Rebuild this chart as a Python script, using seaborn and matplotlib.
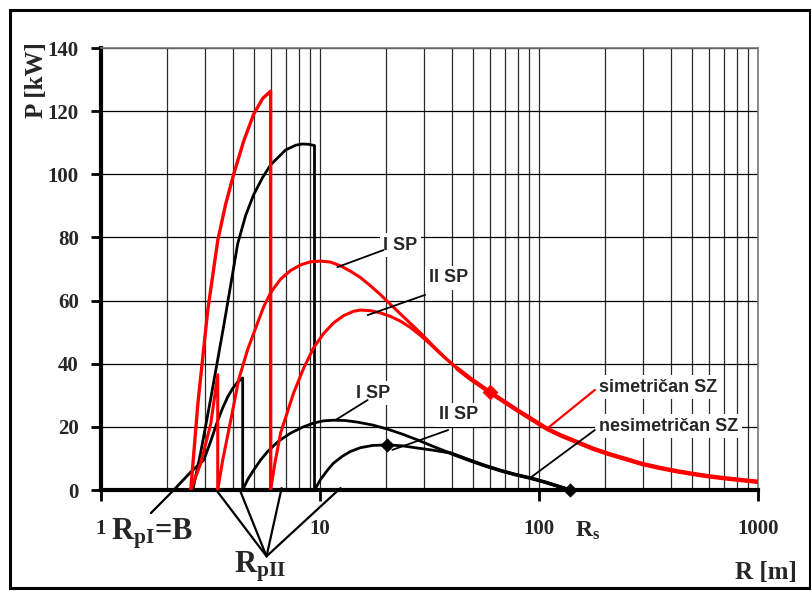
import matplotlib
matplotlib.use("Agg")
import numpy as np
import pandas as pd
import matplotlib.pyplot as plt
import matplotlib.patches as mpatches
from matplotlib.ticker import FixedLocator, NullFormatter, LogLocator
import seaborn as sns

# ---------------- data (R in m, P in kW) ----------------
red_tall_R = [2.570, 2.766, 3.073, 3.412, 3.707, 4.035, 4.482, 4.976, 5.47, 5.950, 5.950]
red_tall_P = [0, 27, 57, 79, 90.5, 100, 110.5, 119, 124, 126.3, 0]

red_spike_R = [2.570, 2.855, 3.171, 3.412, 3.412]
red_spike_P = [0, 8.5, 21, 36.5, 0]

# shared tail of both red curves (symmetric fault)
tail_R = [42.31, 48.48, 59.82, 80.23, 108.7, 124.6, 148.9, 176.2, 210.6, 251.7,
          297.7, 355.9, 425.3, 503, 601, 718.8, 850.4, 1000]
tail_P = [38.5, 35.3, 30.9, 25.1, 19.4, 17.4, 15.2, 13.1, 11.3, 9.7,
          8.2, 7.0, 5.95, 5.1, 4.3, 3.65, 3.1, 2.6]

red_I_R = [3.412, 3.596, 3.911, 4.254, 4.675, 5.192, 5.529, 5.950, 6.607, 7.338,
           8.152, 9.051, 10.05, 11.16, 12.40, 13.77, 15.29, 16.99, 18.87, 20.96,
           23.27, 25.84, 28.71, 32.89, 37.31] + tail_R
red_I_P = [0, 9.5, 22, 35, 44.5, 53, 58, 62.5, 66.8, 69.5,
           71.3, 72.3, 72.5, 72.2, 71, 69.3, 67.3, 64.7, 61.9, 58.8,
           55.8, 52.8, 49.8, 45.6, 41.9] + tail_P

red_II_R = [5.950, 6.205, 6.607, 7.573, 8.411, 9.342, 10.37, 11.52, 12.80, 14.21,
            15.29, 16.99, 18.87, 20.96, 23.27, 25.84, 28.71, 31.87, 35.40, 39.32] + tail_R
red_II_P = [0, 8, 18, 30.7, 38.5, 45, 49.5, 52.9, 55.2, 56.6,
            57, 56.8, 56.1, 55, 53.5, 51.5, 49, 46.2, 43.2, 40.4] + tail_P

black_tall_R = [2.625, 2.855, 3.171, 3.634, 3.911, 4.209, 4.578, 4.976, 5.47, 5.950,
                6.963, 7.734, 8.324, 8.862, 9.44, 9.44]
black_tall_P = [0, 12, 29, 52, 65, 78, 87, 93.5, 99, 103,
                107.7, 109.2, 109.6, 109.5, 109.1, 0]

black_spike_R = [2.15, 2.57, 2.947, 3.171, 3.412, 3.596, 3.790, 3.995, 4.209, 4.436, 4.436]
black_spike_P = [0, 5.7, 9.5, 15.5, 22, 26, 29.5, 32.2, 34.2, 35.5, 0]

# shared tail of both black curves (asymmetric fault)
btail_R = [39.32, 46.99, 55.57, 66.44, 77.74, 91.0, 106.5, 122.1, 138.4]
btail_P = [11.7, 9.7, 7.9, 6.2, 4.9, 3.8, 2.5, 1.2, 0]

black_I_R = [4.436, 4.675, 4.976, 5.357, 5.766, 6.471, 7.338, 8.324, 9.342, 10.37,
             11.52, 13.07, 14.82, 17.35, 20.30, 23.76, 27.81, 32.89] + btail_R
black_I_P = [0, 3.3, 6.3, 9.5, 12.2, 15.5, 18, 19.9, 21.2, 21.9,
             22.1, 22, 21.5, 20.6, 19.3, 17.7, 15.9, 13.8] + btail_P

black_II_R = [9.44, 10.05, 10.82, 11.52, 12.66, 13.77, 15.29, 17.35, 20.30, 23.76,
              27.81, 32.89] + btail_R
black_II_P = [0, 3.3, 6.3, 8.5, 10.7, 12.2, 13.4, 14.1, 14.3, 14.0,
              13.3, 12.6] + btail_P

red_mark_R = [59.82]
red_mark_P = [31]
black_mark_R = [20.3, 138.4]
black_mark_P = [14.3, 0]

x_ticks = [1, 10, 100, 1000]
x_ticklabels = ["1", "10", "100", "1000"]
y_ticks = [0, 20, 40, 60, 80, 100, 120, 140]

# ---------------- style ----------------
sns.set_style("white")
plt.rcParams['font.family'] = ['Liberation Serif', 'DejaVu Serif']
plt.rcParams['mathtext.fontset'] = 'custom'
plt.rcParams['mathtext.rm'] = 'Liberation Serif'
plt.rcParams['mathtext.bf'] = 'Liberation Serif:bold'
plt.rcParams['mathtext.it'] = 'Liberation Serif:italic'

W, H = 811, 591
fig = plt.figure(figsize=(W / 100, H / 100), dpi=100)
ax = fig.add_axes([101 / W, 101 / H, 657 / W, 442 / H])

def line(R, P, color, lw, z):
    df = pd.DataFrame({"R": R, "P": P})
    sns.lineplot(data=df, x="R", y="P", color=color, lw=lw, estimator=None,
                 sort=False, ax=ax, zorder=z)

RED = "#ff0000"
BLK = "#000000"
line(black_I_R, black_I_P, BLK, 2.0, 3)
line(black_II_R, black_II_P, BLK, 2.0, 3)
line(btail_R, btail_P, BLK, 2.6, 3)
line(black_tall_R, black_tall_P, BLK, 2.0, 3)
line(black_spike_R, black_spike_P, BLK, 2.0, 3)
line(red_I_R, red_I_P, RED, 2.2, 4)
line(red_II_R, red_II_P, RED, 2.2, 4)
line(tail_R, tail_P, RED, 3.2, 4)
line(red_tall_R, red_tall_P, RED, 2.4, 4)
line(red_spike_R, red_spike_P, RED, 2.2, 4)

sns.scatterplot(x=black_mark_R, y=black_mark_P, marker="D", s=45, color=BLK,
                edgecolor=BLK, ax=ax, zorder=6, clip_on=False)
sns.scatterplot(x=red_mark_R, y=red_mark_P, marker="D", s=55, color=RED,
                edgecolor=RED, ax=ax, zorder=6)

ax.set_xscale("log")
ax.set_xlim(1, 1000)
ax.set_ylim(0, 140)
ax.xaxis.set_major_locator(FixedLocator(x_ticks))
ax.set_xticklabels(x_ticklabels)
ax.xaxis.set_minor_locator(LogLocator(base=10, subs=np.arange(2, 10)))
ax.xaxis.set_minor_formatter(NullFormatter())
ax.set_yticks(y_ticks)
ax.set_yticklabels([str(v) for v in y_ticks])
ax.set_xlabel("")
ax.set_ylabel("")

ax.grid(True, which="both", axis="x", color="#2a2a2a", lw=0.9)
ax.grid(True, which="major", axis="y", color="#000000", lw=0.9)
ax.set_axisbelow(True)

ax.tick_params(axis="y", which="major", direction="out", length=7, width=2,
               pad=9, labelsize=15, left=True, color="black")
ax.tick_params(axis="x", which="major", direction="out", length=8, width=2,
               pad=13, labelsize=15, bottom=True, color="black")
ax.tick_params(axis="x", which="minor", length=0)
for lab in ax.get_xticklabels() + ax.get_yticklabels():
    lab.set_fontweight("bold")

for s in ("left", "bottom"):
    ax.spines[s].set_color("black")
    ax.spines[s].set_linewidth(3)
for s in ("top", "right"):
    ax.spines[s].set_color("#777777")
    ax.spines[s].set_linewidth(1.2)

# ---------------- annotations ----------------
SANS = ['Liberation Sans', 'DejaVu Sans']
bb = dict(facecolor="white", edgecolor="none", pad=2.5)

def leader(p0, p1, color, lw=1.3):
    ax.annotate("", xy=p1, xytext=p0, annotation_clip=False,
                arrowprops=dict(arrowstyle="-", color=color, lw=lw,
                                shrinkA=0, shrinkB=0), zorder=5)

def lab(x, y, s, ha="center"):
    ax.text(x, y, s, ha=ha, va="center", fontsize=13, fontweight="bold",
            family=SANS, bbox=bb, zorder=5)

lab(23.3, 77.6, "I SP")
leader((19.5, 76.0), (12.0, 70.6), BLK)
lab(38.5, 67.2, "II SP")
leader((30.2, 61.8), (16.5, 55.4), BLK)
lab(17.5, 30.7, "I SP")
leader((16.5, 28.5), (11.8, 22.2), BLK)
lab(42.8, 23.8, "II SP")
leader((38.5, 19.0), (21.4, 12.7), BLK)
lab(187.6, 32.6, "simetričan SZ", ha="left")
leader((179.9, 31.7), (108.7, 19.4), RED, 1.6)
lab(187.6, 20.2, "nesimetričan SZ", ha="left")
leader((179.9, 19.0), (91.0, 3.8), BLK)

# R_p leaders below axis
leader((1.69, -7.3), (2.15, 0.0), BLK, 1.6)
for end in [(3.41, -0.6), (4.34, -0.6), (6.68, 0.6), (12.4, 0.6)]:
    leader((5.70, -21.0), end, BLK, 1.6)

fig.text(152 / W, 1 - 534 / H, r"$\mathbf{R}_{\mathbf{pI}}$=B", fontsize=22,
         fontweight="bold", ha="center", va="center")
fig.text(260 / W, 1 - 567 / H, r"$\mathbf{R}_{\mathbf{pII}}$", fontsize=22,
         fontweight="bold", ha="center", va="center")
fig.text(588 / W, 1 - 531 / H, r"$\mathbf{R}_{\mathbf{s}}$", fontsize=17,
         fontweight="bold", ha="center", va="center")
fig.text(766 / W, 1 - 572 / H, "R [m]", fontsize=18, fontweight="bold",
         ha="center", va="center")
fig.text(37 / W, 1 - 80 / H, "P [kW]", fontsize=18, fontweight="bold",
         ha="center", va="center", rotation=90)

# outer frame
fig.patches.append(mpatches.Rectangle((9.5 / W, 3.5 / H), 800 / W, 578 / H,
                                      transform=fig.transFigure, fill=False,
                                      edgecolor="black", lw=2.2))

fig.savefig("out.png", dpi=100)
